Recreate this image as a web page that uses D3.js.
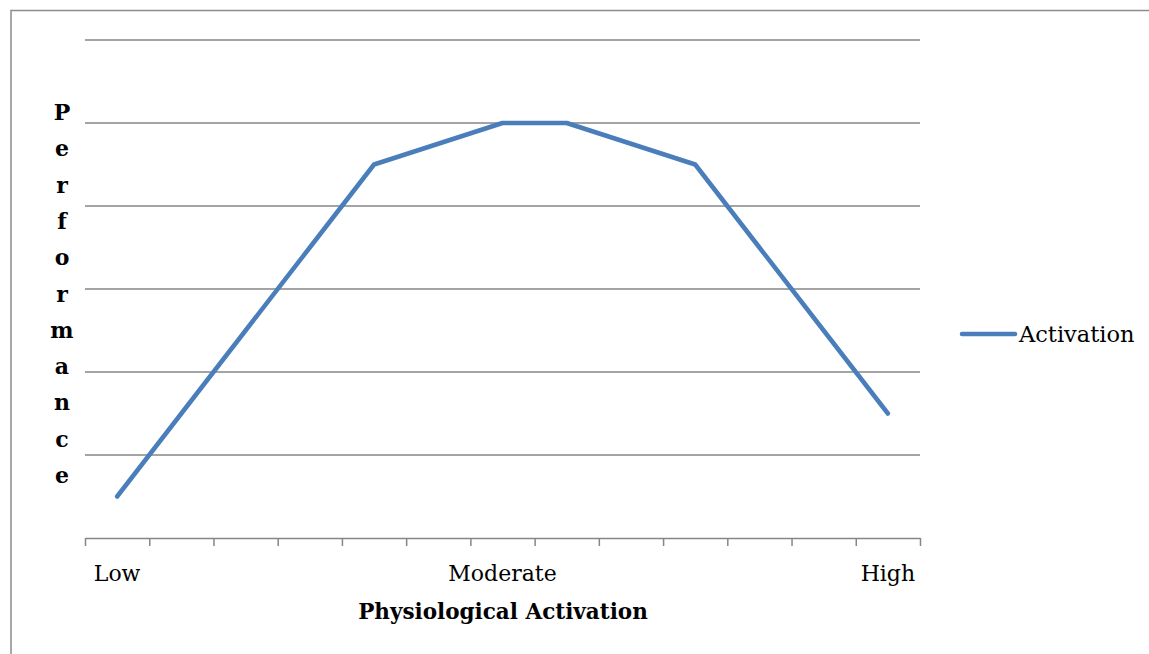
<html>
<head>
<script src="https://d3js.org/d3.v7.min.js"></script>
<style>
body { margin: 0; background: #fff; }
text { font-family: "DejaVu Serif", serif; }
</style>
</head>
<body>
<div id="canvas"></div>
<script>

var width = 1149;
var height = 654;

// data
var categories = ["Low", "", "", "", "", "", "Moderate", "", "", "", "", "", "High"];
var activation = [0.5, 1.5, 2.5, 3.5, 4.5, 4.75, 5, 5, 4.75, 4.5, 3.5, 2.5, 1.5];
var yTicks = [1, 2, 3, 4, 5, 6];
var seriesName = "Activation";
var xTitle = "Physiological Activation";
var yTitle = "Performance";

var plotLeft = 85, plotRight = 920, plotTop = 40, plotBottom = 538;

var svg = d3.select("#canvas").append("svg").attr("width", width).attr("height", height);

// chart border (runs off the page on right and bottom)
svg.append("rect")
    .attr("x", 11).attr("y", 10.5)
    .attr("width", 1200).attr("height", 700)
    .attr("fill", "none")
    .attr("stroke", "#8c8c8c")
    .attr("stroke-width", 1.5);

var x = d3.scaleBand().domain(d3.range(categories.length)).range([plotLeft, plotRight]).padding(0);
var xEdge = d3.scaleLinear().domain([0, categories.length]).range([plotLeft, plotRight]);
var y = d3.scaleLinear().domain([0, 6]).range([plotBottom, plotTop]);

// gridlines
svg.append("g")
    .selectAll("line")
    .data(yTicks)
    .enter().append("line")
    .attr("x1", plotLeft).attr("x2", plotRight)
    .attr("y1", function(d) { return y(d); })
    .attr("y2", function(d) { return y(d); })
    .attr("stroke", "#868686")
    .attr("stroke-width", 1.3);

// x axis with ticks at category boundaries
var axis = svg.append("g")
    .attr("transform", "translate(0," + plotBottom + ")")
    .call(d3.axisBottom(xEdge).tickValues(d3.range(categories.length + 1)).tickFormat("").tickSize(8).tickSizeOuter(0));
axis.select(".domain").attr("stroke", "#868686").attr("stroke-width", 1.5);
axis.selectAll(".tick line").attr("stroke", "#868686").attr("stroke-width", 1.5);

// category labels
svg.append("g")
    .selectAll("text")
    .data(categories)
    .enter().append("text")
    .attr("x", function(d, i) { return x(i) + x.bandwidth() / 2; })
    .attr("y", 581)
    .attr("text-anchor", "middle")
    .attr("font-size", 22)
    .attr("fill", "#000")
    .text(function(d) { return d; });

// the line
var line = d3.line()
    .x(function(d, i) { return x(i) + x.bandwidth() / 2; })
    .y(function(d) { return y(d); });

svg.append("path")
    .datum(activation)
    .attr("d", line)
    .attr("fill", "none")
    .attr("stroke", "#4a7ebb")
    .attr("stroke-width", 4.5)
    .attr("stroke-linecap", "round")
    .attr("stroke-linejoin", "round");

// x title
svg.append("text")
    .attr("x", 503).attr("y", 619)
    .attr("text-anchor", "middle")
    .attr("font-size", 21.5)
    .attr("font-weight", "bold")
    .text(xTitle);

// y title, stacked letters
svg.append("g")
    .selectAll("text")
    .data(yTitle.split(""))
    .enter().append("text")
    .attr("x", 62)
    .attr("y", function(d, i) { return 120 + i * 36.3; })
    .attr("text-anchor", "middle")
    .attr("font-size", 22)
    .attr("font-weight", "bold")
    .text(function(d) { return d; });

// legend
svg.append("line")
    .attr("x1", 962).attr("x2", 1015)
    .attr("y1", 334).attr("y2", 334)
    .attr("stroke", "#4a7ebb")
    .attr("stroke-width", 4.5)
    .attr("stroke-linecap", "round");
svg.append("text")
    .attr("x", 1019).attr("y", 342)
    .attr("font-size", 22.5)
    .text(seriesName);

</script>
</body>
</html>
